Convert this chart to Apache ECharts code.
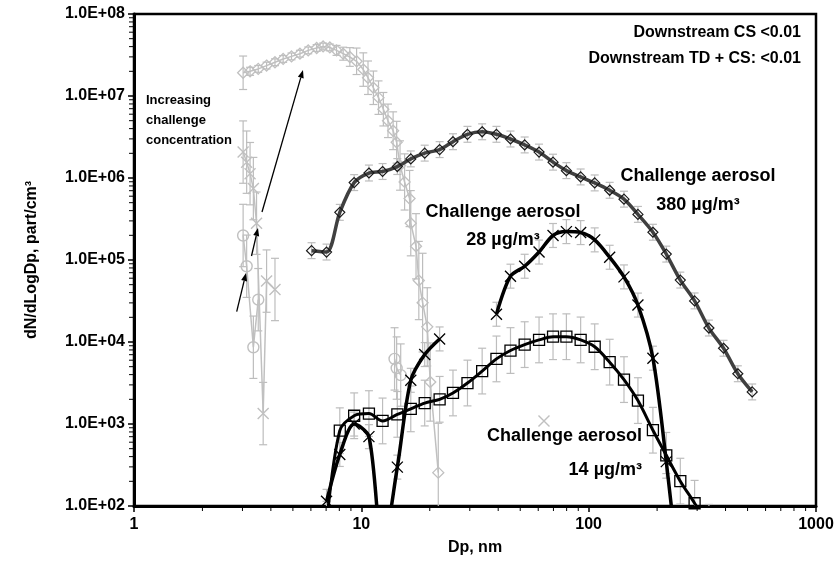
<!DOCTYPE html>
<html>
<head>
<meta charset="utf-8">
<script src="https://cdn.jsdelivr.net/npm/echarts/dist/echarts.min.js"></script>
<style>
  html, body { margin: 0; padding: 0; background: #fff; }
  #chart { width: 839px; height: 561px; }
</style>
</head>
<body>
<div id="chart"></div>
<script>
// SMPS size channels (nm) shared by the three challenge-aerosol scans
const dpBins = [6.04, 7.03, 8.04, 9.30, 10.8, 12.4, 14.4, 16.5, 19.0, 22.1, 25.3, 29.3, 34.0, 39.3, 45.3, 52.3,
  60.5, 69.7, 79.8, 92.2, 106.3, 123.7, 143, 164.7, 191.7, 219.5, 253, 292.4, 338, 392, 453, 524];

// dN/dLogDp (part/cm3) per channel; null = no reading
const conc380 = [1.30e5, 1.25e5, 3.81e5, 8.79e5, 1.15e6, 1.20e6, 1.38e6, 1.71e6, 2.01e6, 2.22e6, 2.77e6, 3.41e6,
  3.66e6, 3.41e6, 2.99e6, 2.53e6, 2.07e6, 1.56e6, 1.23e6, 1.03e6, 8.71e5, 7.08e5, 5.52e5, 3.60e5, 2.18e5, 1.18e5,
  5.69e4, 3.17e4, 1.48e4, 8.39e3, 4.10e3, 2.46e3];
const conc28 = [null, 114, 425, 998, 701, 30, 298, 3410, 7030, 1.09e4, null, null, null, 2.18e4, 6.35e4, 8.39e4,
  1.25e5, 1.99e5, 2.22e5, 2.16e5, 1.76e5, 1.08e5, 6.22e4, 2.82e4, 6.35e3, 348, 10, null, null, null, null, null];
const conc14 = [null, 60, 828, 1260, 1340, 1090, 1310, 1530, 1800, 2000, 2390, 3160, 4420, 6220, 7870, 9290,
  1.06e4, 1.16e4, 1.16e4, 1.06e4, 8750, 5680, 3480, 1930, 840, 415, 201, 108, 55, null, null, null];

// relative uncertainty (multiplicative) of each scan
const err380 = 1.25;
const err28 = 1.4;
const err14 = 1.9;

// nano-range scans at increasing challenge concentration
const nanoHighDp = [3.02, 3.24, 3.52, 3.83, 4.17, 4.53, 4.93, 5.37, 5.84, 6.36, 6.79, 7.27, 7.78, 8.32, 8.90,
  9.53, 10.2, 10.7, 11.3, 11.9, 12.5, 13.1, 13.8, 14.3, 14.8, 15.5, 16.3, 16.5, 17.4, 17.9, 18.6, 19.5, 20.1, 21.8];
const nanoHighN = [1.92e7, 2.00e7, 2.14e7, 2.35e7, 2.58e7, 2.83e7, 3.04e7, 3.28e7, 3.60e7, 3.85e7, 4.02e7,
  3.91e7, 3.60e7, 3.28e7, 2.99e7, 2.65e7, 2.10e7, 1.67e7, 1.26e7, 9.55e6, 6.90e6, 4.98e6, 3.77e6, 2.73e6,
  1.42e6, 8.95e5, 5.62e5, 2.81e5, 1.47e5, 5.62e4, 3.02e4, 1.53e4, 3.25e3, 255];
const nanoHighErr = [1.6, 1.12, 1.1, 1.1, 1.1, 1.1, 1.1, 1.1, 1.1, 1.1, 1.1, 1.1, 1.15, 1.2, 1.3, 1.45, 1.6,
  1.6, 1.6, 1.6, 1.6, 1.6, 1.7, 1.8, 2.0, 2.2, 2.2, 2.5, 2.5, 3.0, 4.0, 3.0, 3.0, 4.0];

const nanoMidDp = [3.02, 3.13, 3.24, 3.35, 3.46, 3.70, 3.83, 4.17];
const nanoMidN = [2.07e6, 1.56e6, 1.13e6, 7.43e5, 2.81e5, 1340, 5.53e4, 4.37e4];
const strayDp = [63.6];
const strayN = [1090];

const nanoLowDp = [3.02, 3.13, 3.35, 3.52, 8.0, 14.0, 14.3, 14.9];
const nanoLowN = [1.99e5, 8.39e4, 8630, 3.28e4, null, 6220, 4810, 3950];
const errNano = 2.4;

// axis decorations
const yTickLabels = { 2: '1.0E+02', 3: '1.0E+03', 4: '1.0E+04', 5: '1.0E+05', 6: '1.0E+06', 7: '1.0E+07', 8: '1.0E+08' };
const xTickLabels = { 0: '1', 1: '10', 2: '100', 3: '1000' };

const FONT = 'Liberation Sans, Arial, Helvetica, sans-serif';
const GREY = '#c0c0c0';
const BAR = '#bdbdbd';
const CROSS = 'path://M0,0L10,10M10,0L0,10';

function pairs(xs, ys) {
  return xs.map((x, i) => [x, ys[i] == null ? '-' : ys[i]]);
}

function errorBars(xs, ys, factor, color) {
  const data = [];
  xs.forEach((x, i) => {
    const v = ys[i];
    if (v == null) return;
    const f = Array.isArray(factor) ? factor[i] : factor;
    data.push([x, v / f, v * f]);
  });
  return {
    type: 'custom', clip: true, silent: true, z: 1,
    data: data,
    encode: { x: 0, y: [1, 2] },
    renderItem: function (params, api) {
      const top = api.coord([api.value(0), api.value(2)]);
      const bot = api.coord([api.value(0), api.value(1)]);
      const w = 4;
      const st = { stroke: color, lineWidth: 1.2 };
      return {
        type: 'group',
        children: [
          { type: 'line', shape: { x1: top[0], y1: top[1], x2: bot[0], y2: bot[1] }, style: st },
          { type: 'line', shape: { x1: top[0] - w, y1: top[1], x2: top[0] + w, y2: top[1] }, style: st },
          { type: 'line', shape: { x1: bot[0] - w, y1: bot[1], x2: bot[0] + w, y2: bot[1] }, style: st }
        ]
      };
    }
  };
}

function lineSeries(data, opt) {
  return {
    type: 'line',
    data: data,
    clip: true,
    smooth: opt.smooth || false,
    symbol: opt.symbol,
    symbolSize: opt.size,
    showSymbol: true,
    connectNulls: false,
    z: opt.z,
    lineStyle: { color: opt.lineColor, width: opt.lineWidth },
    itemStyle: { color: 'rgba(0,0,0,0)', borderColor: opt.markColor, borderWidth: opt.markWidth },
    emphasis: { disabled: true },
    animation: false
  };
}

// minor ticks at 2..9 of each decade
const xMinor = [];
for (let d = 1; d < 1000; d *= 10) for (let k = 2; k < 10; k++) xMinor.push([k * d, 100]);
const yMinor = [];
for (let d = 100; d < 1e8; d *= 10) for (let k = 2; k < 10; k++) yMinor.push([1, k * d]);

const chart = echarts.init(document.getElementById('chart'), null, { renderer: 'canvas' });

const gridBox = { left: 134, right: 23, top: 14, bottom: 51 };

chart.setOption({
  animation: false,
  backgroundColor: '#fff',
  textStyle: { fontFamily: FONT },
  grid: Object.assign({ show: true, borderColor: '#000', borderWidth: 2.5, backgroundColor: '#fff' }, gridBox),
  xAxis: {
    type: 'log', logBase: 10, min: 1, max: 1000,
    name: 'Dp, nm', nameLocation: 'middle', nameGap: 34,
    nameTextStyle: { fontFamily: FONT, fontWeight: 'bold', fontSize: 16, color: '#000' },
    axisLine: { show: true, lineStyle: { color: '#000', width: 3 } },
    axisTick: { show: true, length: 6, lineStyle: { color: '#000', width: 1.5 } },
    axisLabel: {
      fontFamily: FONT, fontWeight: 'bold', fontSize: 16, color: '#000', margin: 11,
      formatter: v => xTickLabels[Math.round(Math.log10(v))]
    },
    splitLine: { show: false }
  },
  yAxis: {
    type: 'log', logBase: 10, min: 100, max: 1e8,
    name: 'dN/dLogDp, part/cm³', nameLocation: 'middle', nameGap: 94, nameRotate: 90,
    nameTextStyle: { fontFamily: FONT, fontWeight: 'bold', fontSize: 16, color: '#000' },
    axisLine: { show: true, lineStyle: { color: '#000', width: 3 } },
    axisTick: { show: true, length: 6, lineStyle: { color: '#000', width: 1.5 } },
    axisLabel: {
      fontFamily: FONT, fontWeight: 'bold', fontSize: 16, color: '#000', margin: 9,
      formatter: v => yTickLabels[Math.round(Math.log10(v))]
    },
    splitLine: { show: false }
  },
  series: [
    // minor ticks
    {
      type: 'custom', silent: true, clip: false, z: 5, data: xMinor, encode: { x: 0, y: 1 },
      renderItem: (p, api) => {
        const pt = api.coord([api.value(0), 100]);
        return { type: 'line', shape: { x1: pt[0], y1: pt[1], x2: pt[0], y2: pt[1] + 5 }, style: { stroke: '#000', lineWidth: 1 } };
      }
    },
    {
      type: 'custom', silent: true, clip: false, z: 5, data: yMinor, encode: { x: 0, y: 1 },
      renderItem: (p, api) => {
        const pt = api.coord([1, api.value(1)]);
        return { type: 'line', shape: { x1: pt[0] - 5, y1: pt[1], x2: pt[0], y2: pt[1] }, style: { stroke: '#000', lineWidth: 1 } };
      }
    },

    // error bars
    errorBars(nanoHighDp, nanoHighN, nanoHighErr, BAR),
    errorBars(nanoMidDp, nanoMidN, errNano, BAR),
    errorBars(nanoLowDp, nanoLowN, errNano, BAR),
    errorBars(dpBins, conc380, err380, BAR),
    errorBars(dpBins, conc28, err28, BAR),
    errorBars(dpBins, conc14, err14, BAR),

    // nano-range scans
    lineSeries(pairs(nanoHighDp, nanoHighN), { symbol: 'diamond', size: 11, lineColor: GREY, lineWidth: 1.5, markColor: GREY, markWidth: 1.3, z: 2 }),
    lineSeries(pairs(nanoMidDp, nanoMidN), { symbol: CROSS, size: 11, lineColor: GREY, lineWidth: 1.5, markColor: GREY, markWidth: 1.4, z: 2 }),
    lineSeries(pairs(strayDp, strayN), { symbol: CROSS, size: 11, lineColor: GREY, lineWidth: 1.5, markColor: GREY, markWidth: 1.4, z: 2 }),
    lineSeries(pairs(nanoLowDp, nanoLowN), { symbol: 'circle', size: 11, lineColor: GREY, lineWidth: 1.5, markColor: GREY, markWidth: 1.4, z: 2 }),

    // challenge aerosol scans
    lineSeries(pairs(dpBins, conc380), { symbol: 'diamond', size: 10, smooth: 0.3, lineColor: '#404040', lineWidth: 3.5, markColor: '#1a1a1a', markWidth: 1.2, z: 3 }),
    lineSeries(pairs(dpBins, conc14), { symbol: 'rect', size: 11, smooth: 0.3, lineColor: '#000', lineWidth: 3, markColor: '#000', markWidth: 1.3, z: 3 }),
    lineSeries(pairs(dpBins, conc28), { symbol: CROSS, size: 11, smooth: 0.3, lineColor: '#000', lineWidth: 3.5, markColor: '#000', markWidth: 1.3, z: 4 })
  ]
});

// annotations
function label(text, x, y, size, align) {
  return {
    type: 'text', x: x, y: y, z: 20, silent: true,
    style: {
      text: text, fill: '#000', font: 'bold ' + size + 'px ' + FONT,
      textAlign: align || 'center', align: align || 'center',
      textVerticalAlign: 'middle', verticalAlign: 'middle'
    }
  };
}

function arrow(x1, y1, x2, y2) {
  const ang = Math.atan2(y2 - y1, x2 - x1);
  const L = 8, W = 3;
  const bx = x2 - L * Math.cos(ang), by = y2 - L * Math.sin(ang);
  const px = -Math.sin(ang) * W, py = Math.cos(ang) * W;
  return [
    { type: 'line', z: 20, silent: true, shape: { x1: x1, y1: y1, x2: bx, y2: by }, style: { stroke: '#000', lineWidth: 1.3 } },
    { type: 'polygon', z: 20, silent: true, shape: { points: [[x2, y2], [bx + px, by + py], [bx - px, by - py]] }, style: { fill: '#000' } }
  ];
}

const notes = [
  label('Downstream CS <0.01', 801, 33, 16, 'right'),
  label('Downstream TD + CS: <0.01', 801, 59, 16, 'right'),
  label('Increasing', 146, 100, 13, 'left'),
  label('challenge', 146, 120, 13, 'left'),
  label('concentration', 146, 140, 13, 'left'),
  label('Challenge aerosol', 698, 176, 18),
  label('380 µg/m³', 698, 205, 18),
  label('Challenge aerosol', 503, 212, 18),
  label('28 µg/m³', 503, 240, 18),
  label('Challenge aerosol', 642, 436, 18, 'right'),
  label('14 µg/m³', 642, 470, 18, 'right')
].concat(arrow(262, 212, 303, 70), arrow(251.5, 256, 258, 228), arrow(236.7, 311.7, 246, 273));

chart.setOption({ graphic: { elements: notes } });
</script>
</body>
</html>
